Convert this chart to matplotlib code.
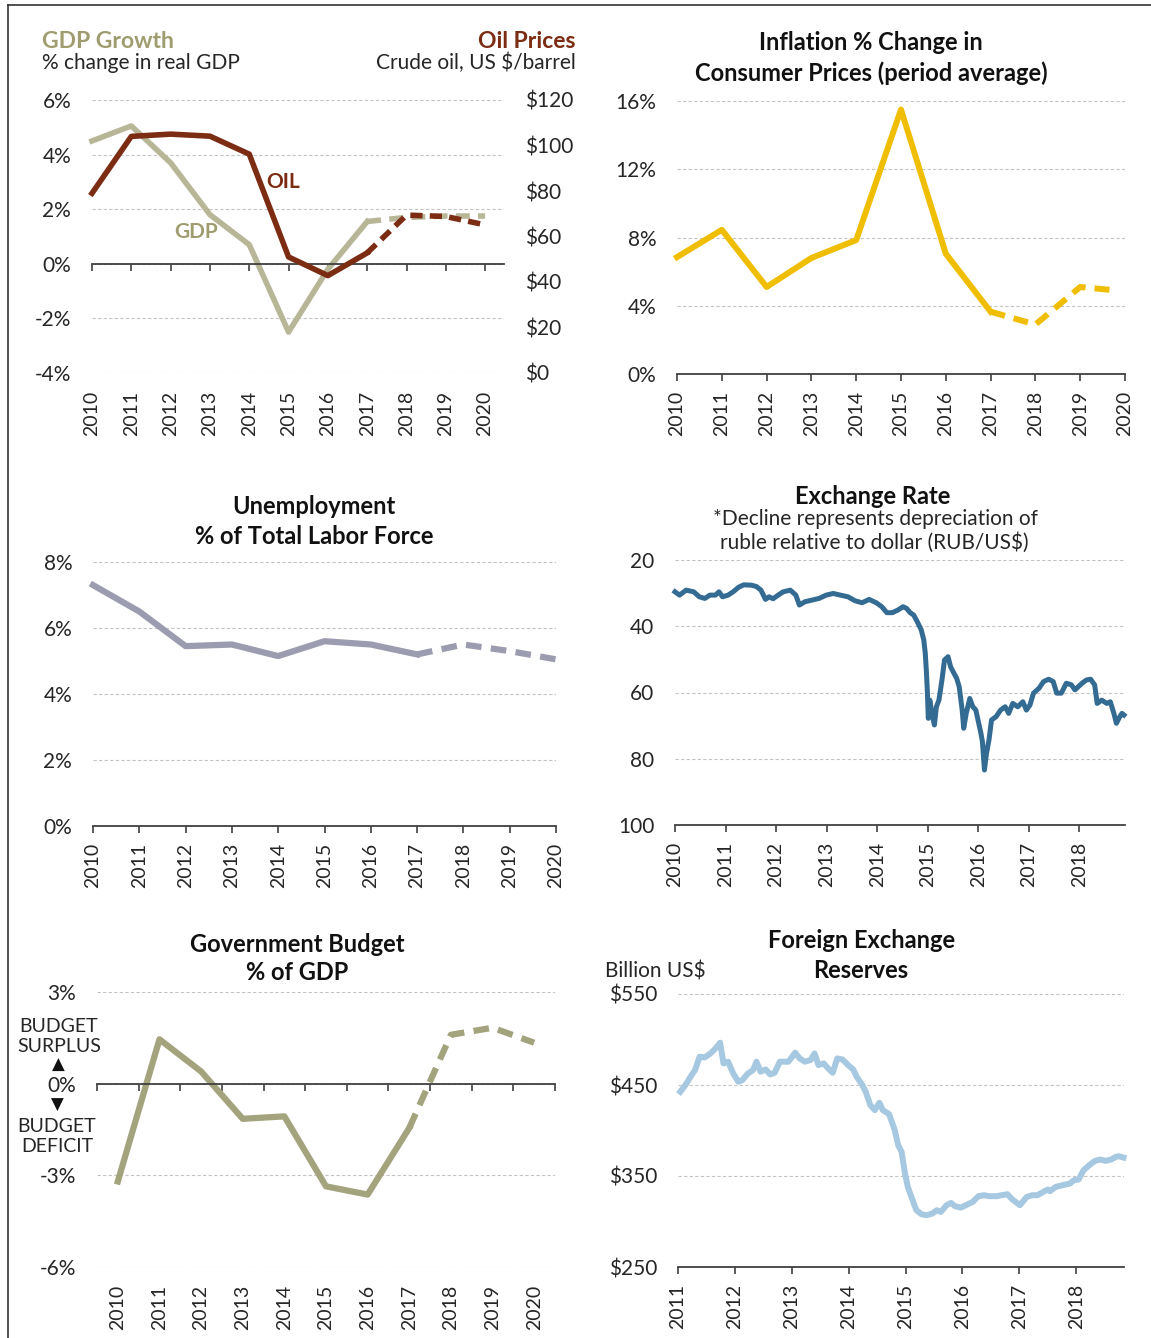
import matplotlib
matplotlib.use('Agg')
import matplotlib.pyplot as plt
from matplotlib.lines import Line2D
import numpy as np

plt.rcParams['font.family'] = ['Lato', 'DejaVu Sans']

W, H = 1151, 1338

# ---------------- data ----------------
years = list(range(2010, 2021))
gdp_growth = [4.5, 5.05, 3.7, 1.8, 0.7, -2.5, -0.2, 1.55, 1.7, 1.75, 1.75]
oil_price = [79.0, 104.0, 105.0, 104.1, 96.2, 51.0, 42.8, 52.8, 69.4, 68.8, 65.1]

infl_years = [2010, 2011, 2012, 2013, 2014, 2015, 2016, 2017, 2018, 2019, 2019.8]
inflation = [6.85, 8.45, 5.1, 6.8, 7.85, 15.5, 7.05, 3.65, 2.9, 5.1, 4.9]

unemployment = [7.3, 6.5, 5.45, 5.5, 5.15, 5.6, 5.5, 5.2, 5.5, 5.3, 5.05]

budget = [-3.2, 1.45, 0.4, -1.15, -1.07, -3.36, -3.63, -1.45, 1.6, 1.83, 1.34]

ex_t = [2010.00, 2010.09, 2010.22, 2010.37, 2010.48, 2010.59, 2010.69, 2010.80, 2010.87, 2010.94,
        2011.05, 2011.15, 2011.26, 2011.36, 2011.51, 2011.61, 2011.70, 2011.79, 2011.86, 2011.94,
        2012.04, 2012.14, 2012.28, 2012.39, 2012.46, 2012.57, 2012.71, 2012.85, 2012.99,
        2013.13, 2013.27, 2013.42, 2013.56, 2013.70, 2013.84, 2013.98,
        2014.09, 2014.19, 2014.30, 2014.41, 2014.51, 2014.58, 2014.65, 2014.72, 2014.79, 2014.87,
        2014.92, 2014.95, 2014.97, 2014.99, 2015.01, 2015.04, 2015.08, 2015.13, 2015.17, 2015.22,
        2015.28, 2015.33, 2015.40, 2015.45, 2015.50, 2015.57, 2015.62, 2015.68, 2015.71, 2015.76,
        2015.83, 2015.89, 2015.95, 2016.00, 2016.05, 2016.08, 2016.12, 2016.16, 2016.21, 2016.26,
        2016.35, 2016.44, 2016.53, 2016.60, 2016.68, 2016.78, 2016.88, 2016.95,
        2017.02, 2017.09, 2017.20, 2017.29, 2017.39, 2017.48, 2017.55, 2017.64, 2017.74, 2017.84,
        2017.91, 2017.98, 2018.05, 2018.14, 2018.22, 2018.30, 2018.35, 2018.44, 2018.54, 2018.61,
        2018.68, 2018.73, 2018.79, 2018.84, 2018.88]
ex_rate = [29.6, 30.6, 29.1, 29.6, 31.1, 31.6, 30.6, 30.6, 29.6, 31.1,
           30.6, 29.6, 28.2, 27.5, 27.6, 28.0, 29.1, 31.9, 31.1, 31.7,
           30.6, 29.6, 29.1, 30.6, 33.6, 32.6, 32.1, 31.6, 30.6,
           30.1, 30.6, 31.1, 32.3, 32.9, 31.9, 32.9,
           34.1, 35.9, 35.9, 35.1, 34.1, 34.6, 35.9, 36.6, 38.6, 41.1,
           44.1, 48.2, 53.2, 59.2, 67.8, 62.3, 66.3, 69.8, 64.3, 62.3,
           56.2, 50.2, 49.2, 52.2, 53.7, 55.7, 58.2, 65.3, 70.8, 66.3,
           61.8, 64.3, 65.3, 68.8, 72.3, 74.8, 83.4, 78.4, 74.3, 68.3,
           67.3, 65.3, 64.3, 66.3, 63.3, 64.3, 62.8, 65.3,
           63.8, 60.2, 58.7, 56.7, 56.0, 56.7, 60.2, 60.2, 57.2, 57.7,
           59.2, 58.2, 57.2, 56.2, 56.0, 57.7, 63.3, 62.3, 63.3, 62.8,
           66.3, 69.3, 67.5, 66.3, 66.8]

fx_t = [2011.04, 2011.13, 2011.22, 2011.30, 2011.38, 2011.47, 2011.57, 2011.66, 2011.74, 2011.80,
        2011.88, 2011.97, 2012.06, 2012.13, 2012.23, 2012.32, 2012.38, 2012.45, 2012.54, 2012.62,
        2012.70, 2012.79, 2012.94, 2013.06, 2013.14, 2013.23, 2013.33, 2013.40, 2013.47, 2013.56,
        2013.64, 2013.72, 2013.80, 2013.89, 2013.99, 2014.08, 2014.14, 2014.23, 2014.30, 2014.38,
        2014.46, 2014.54, 2014.60, 2014.71, 2014.81, 2014.87, 2014.93, 2014.99, 2015.04, 2015.12,
        2015.19, 2015.28, 2015.37, 2015.47, 2015.55, 2015.62, 2015.72, 2015.80, 2015.87, 2015.97,
        2016.06, 2016.18, 2016.28, 2016.38, 2016.47, 2016.60, 2016.69, 2016.79, 2016.88, 2017.01,
        2017.13, 2017.23, 2017.32, 2017.42, 2017.50, 2017.54, 2017.64, 2017.76, 2017.89, 2017.96,
        2018.04, 2018.13, 2018.23, 2018.33, 2018.42, 2018.52, 2018.61, 2018.70, 2018.75, 2018.83]
fx_reserves = [442.6, 449.9, 459.1, 466.4, 481.1, 480.3, 484.7, 490.2, 496.5, 473.7,
               475.6, 462.7, 453.6, 455.4, 462.7, 466.4, 475.6, 464.6, 467.1, 461.6,
               463.5, 475.6, 475.6, 485.5, 479.2, 475.6, 477.4, 484.7, 471.9, 473.7,
               468.2, 463.5, 479.2, 478.1, 471.9, 467.1, 459.1, 451.0, 442.6, 427.9,
               422.4, 430.5, 422.4, 418.0, 400.4, 383.9, 376.6, 352.7, 338.0, 324.1,
               312.4, 308.0, 306.9, 308.7, 312.4, 310.5, 317.9, 320.4, 316.8, 315.3,
               317.9, 321.5, 327.8, 328.9, 327.8, 327.8, 328.9, 330.0, 324.1, 317.9,
               327.0, 328.9, 328.9, 332.5, 335.1, 333.3, 338.0, 339.9, 341.7, 345.4,
               346.1, 356.4, 361.9, 366.6, 368.1, 366.6, 368.1, 371.1, 371.8, 370.3]

# ---------------- style ----------------
TXT = '#262626'
GRID = '#c4c4c4'
AXC = '#404040'
GDP_C = '#b7b697'
GDP_T = '#9f9d6f'
OIL_C = '#7b2c12'
INF_C = '#f0be00'
UNE_C = '#9c9cb1'
EXC_C = '#346b93'
BUD_C = '#a3a37d'
FXR_C = '#a6c8e0'
DASH = (0, (2.5, 1.5))
FS = 15
YFS = 14
TFS = 17
HFS = 16.5

fig = plt.figure(figsize=(W / 100, H / 100), dpi=100)


def px_rect(l, t, r, b):
    return [l / W, 1 - b / H, (r - l) / W, (b - t) / H]


def ftext(x, y, s, **kw):
    kw.setdefault('ha', 'center')
    kw.setdefault('va', 'center')
    kw.setdefault('color', TXT)
    kw.setdefault('fontsize', FS)
    fig.text(x / W, 1 - y / H, s, **kw)


def style(ax, yticks, ylabels, ylim, xlim):
    ax.set_xlim(xlim)
    ax.set_ylim(ylim)
    for s in ['left', 'right', 'top']:
        ax.spines[s].set_visible(False)
    ax.spines['bottom'].set_color(AXC)
    ax.spines['bottom'].set_linewidth(1.3)
    ax.set_yticks(yticks)
    ax.set_yticklabels(ylabels, fontsize=FS, color=TXT)
    ax.tick_params(axis='y', length=0, pad=15)
    ax.grid(axis='y', color=GRID, ls=(0, (3, 2)), lw=0.8)
    ax.grid(axis='x', visible=False)
    ax.set_axisbelow(True)
    ax.tick_params(axis='x', direction='out', length=5, width=1.2, color=AXC,
                   labelsize=YFS, labelcolor=TXT, labelrotation=90, pad=7)
    ax.patch.set_alpha(0)


def pct(v):
    return [f'{t}%' for t in v]


# ---------------- Panel 1: GDP & Oil ----------------
ax1 = fig.add_axes(px_rect(92, 100, 504, 373))
style(ax1, [-4, -2, 0, 2, 4, 6], pct([-4, -2, 0, 2, 4, 6]), (-4, 6), (2010, 2020.48))
ax1.spines['bottom'].set_position(('data', 0))
ax1.set_xticks(years)
ax1.tick_params(axis='x', labelbottom=False)
sec1 = ax1.secondary_xaxis('bottom')
sec1.set_xticks(years)
sec1.set_xticklabels([str(y) for y in years], rotation=90, fontsize=YFS, color=TXT)
sec1.tick_params(length=0, pad=13)
sec1.spines['bottom'].set_visible(False)
ax1.plot(years[:8], gdp_growth[:8], color=GDP_C, lw=4, solid_joinstyle='round', clip_on=False)
ax1.plot(years[7:], gdp_growth[7:], color=GDP_C, lw=4, ls=DASH, clip_on=False)
ax1.text(2012.64, 1.17, 'GDP', color=GDP_T, fontsize=15, fontweight='bold', ha='center', va='center')

ax1r = ax1.twinx()
ax1r.set_ylim(0, 120)
ax1r.set_xlim(2010, 2020.48)
for s in ax1r.spines.values():
    s.set_visible(False)
ax1r.set_yticks(range(0, 121, 20))
ax1r.set_yticklabels([r'\$' + str(v) for v in range(0, 121, 20)], fontsize=FS, color=TXT)
ax1r.tick_params(axis='y', length=0, pad=15)
ax1r.plot(years[:8], oil_price[:8], color=OIL_C, lw=4, solid_joinstyle='round', clip_on=False)
ax1r.plot(years[7:], oil_price[7:], color=OIL_C, lw=4, ls=(0, (2.2, 1.3)), clip_on=False)
ax1r.text(2014.85, 84.0, 'OIL', color=OIL_C, fontsize=15, fontweight='bold', ha='center', va='center')

ftext(42, 42, 'GDP Growth', ha='left', fontsize=HFS, fontweight='bold', color=GDP_T)
ftext(42, 63, '% change in real GDP', ha='left')
ftext(576, 42, 'Oil Prices', ha='right', fontsize=HFS, fontweight='bold', color=OIL_C)
ftext(576, 63, r'Crude oil, US \$/barrel', ha='right')

# ---------------- Panel 2: Inflation ----------------
ax2 = fig.add_axes(px_rect(677, 101, 1125, 374))
style(ax2, [0, 4, 8, 12, 16], pct([0, 4, 8, 12, 16]), (0, 16), (2010, 2020))
ax2.set_xticks(years)
ax2.set_xticklabels([str(y) for y in years])
ax2.plot(infl_years[:8], inflation[:8], color=INF_C, lw=4.3, solid_joinstyle='round', clip_on=False)
ax2.plot(infl_years[7:], inflation[7:], color=INF_C, lw=4.3, ls=DASH, clip_on=False)
ftext(871, 43, 'Inflation % Change in', fontsize=TFS, fontweight='bold', color='#111111')
ftext(871, 73, 'Consumer Prices (period average)', fontsize=TFS, fontweight='bold', color='#111111')

# ---------------- Panel 3: Unemployment ----------------
ax3 = fig.add_axes(px_rect(93, 562, 556, 826))
style(ax3, [0, 2, 4, 6, 8], pct([0, 2, 4, 6, 8]), (0, 8), (2010, 2020))
ax3.set_xticks(years)
ax3.set_xticklabels([str(y) for y in years])
ax3.plot(years[:8], unemployment[:8], color=UNE_C, lw=4.5, solid_joinstyle='round', clip_on=False)
ax3.plot(years[7:], unemployment[7:], color=UNE_C, lw=4.5, ls=DASH, clip_on=False)
ftext(314, 507, 'Unemployment', fontsize=TFS, fontweight='bold', color='#111111')
ftext(314, 537, '% of Total Labor Force', fontsize=TFS, fontweight='bold', color='#111111')

# ---------------- Panel 4: Exchange rate ----------------
ax4 = fig.add_axes(px_rect(675, 560, 1125, 825))
style(ax4, [20, 40, 60, 80, 100], ['20', '40', '60', '80', '100'], (100, 20), (2010, 2018.9))
ex_years = list(range(2010, 2019))
ax4.set_xticks(ex_years)
ax4.set_xticklabels([str(y) for y in ex_years])
ax4.plot(ex_t, ex_rate, color=EXC_C, lw=3.6, solid_joinstyle='round', clip_on=False)
ftext(873, 496, 'Exchange Rate', fontsize=TFS, fontweight='bold', color='#111111')
ftext(875, 519, '*Decline represents depreciation of')
ftext(874, 543, r'ruble relative to dollar (RUB/US\$)')

# ---------------- Panel 5: Government budget ----------------
ax5 = fig.add_axes(px_rect(97, 992, 555, 1267))
style(ax5, [-6, -3, 0, 3], pct([-6, -3, 0, 3]), (-6, 3), (-0.5, 10.5))
ax5.spines['bottom'].set_position(('data', 0))
cat = np.arange(len(years))
ax5.set_xticks(np.arange(-0.5, len(years), 1.0))
ax5.tick_params(axis='x', labelbottom=False)
sec5 = ax5.secondary_xaxis('bottom')
sec5.set_xticks(cat)
sec5.set_xticklabels([str(y) for y in years], rotation=90, fontsize=YFS, color=TXT)
sec5.tick_params(length=0, pad=13)
sec5.spines['bottom'].set_visible(False)
ax5.plot(cat[:8], budget[:8], color=BUD_C, lw=4.5, solid_joinstyle='round')
ax5.plot(cat[7:], budget[7:], color=BUD_C, lw=4.5, ls=DASH)
ftext(297, 944, 'Government Budget', fontsize=TFS, fontweight='bold', color='#111111')
ftext(297, 973, '% of GDP', fontsize=TFS, fontweight='bold', color='#111111')
ftext(59, 1026, 'BUDGET', fontsize=14)
ftext(59, 1046, 'SURPLUS', fontsize=14)
ftext(58, 1065, '\u25B2', fontsize=12, color='#111111', family=['DejaVu Sans'])
ftext(57, 1105, '\u25BC', fontsize=12, color='#111111', family=['DejaVu Sans'])
ftext(57, 1126, 'BUDGET', fontsize=14)
ftext(57, 1146, 'DEFICIT', fontsize=14)

# ---------------- Panel 6: FX reserves ----------------
ax6 = fig.add_axes(px_rect(678, 994, 1124, 1267))
fx_ticks = [250, 350, 450, 550]
style(ax6, fx_ticks, [r'\$' + str(v) for v in fx_ticks], (250, 550), (2011, 2018.84))
fx_years = list(range(2011, 2019))
ax6.set_xticks(fx_years)
ax6.set_xticklabels([str(y) for y in fx_years])
ax6.plot(fx_t, fx_reserves, color=FXR_C, lw=4.3, solid_joinstyle='round', clip_on=False)
ftext(862, 940, 'Foreign Exchange', fontsize=TFS, fontweight='bold', color='#111111')
ftext(861, 971, 'Reserves', fontsize=TFS, fontweight='bold', color='#111111')
ftext(605, 972, r'Billion US\$', ha='left')

# ---------------- frame ----------------
fig.add_artist(Line2D([8 / W, 1], [1 - 5 / H, 1 - 5 / H], transform=fig.transFigure, color='#333333', lw=1.2))
fig.add_artist(Line2D([8 / W, 8 / W], [1 - 5 / H, 0], transform=fig.transFigure, color='#333333', lw=1.2))

fig.savefig('out.png', dpi=100, facecolor='white')
